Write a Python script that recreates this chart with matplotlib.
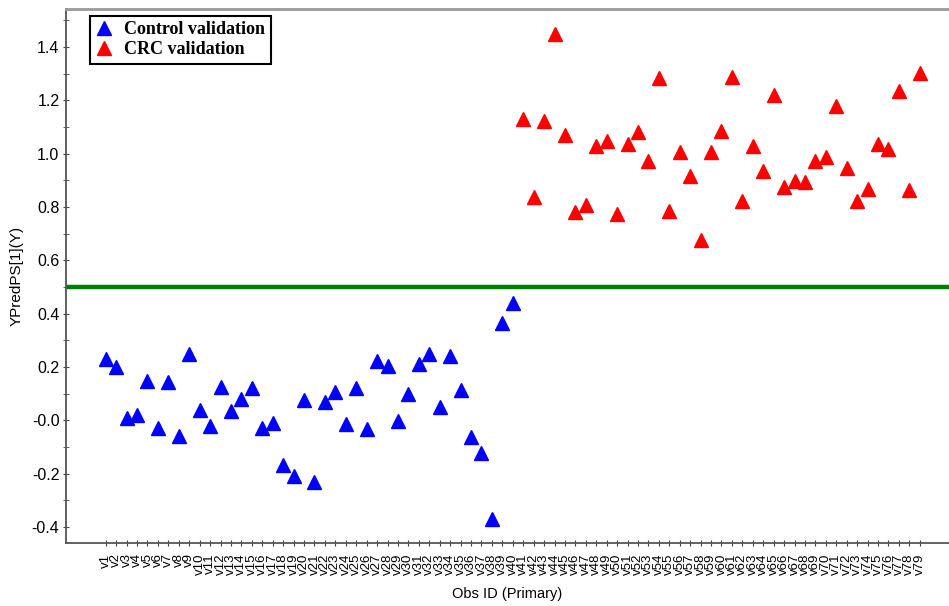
import matplotlib
matplotlib.use("Agg")
import matplotlib.pyplot as plt
from matplotlib.ticker import MultipleLocator, FuncFormatter

# predicted Y per validation observation (v1..v79)
control_ids = [f"v{i}" for i in range(1, 41)]
control_pred = [0.23, 0.20, 0.01, 0.02, 0.148, -0.028, 0.145, -0.058, 0.249, 0.039,
                -0.021, 0.126, 0.035, 0.08, 0.122, -0.028, -0.011, -0.168, -0.209, 0.076,
                -0.233, 0.07, 0.107, -0.014, 0.12, -0.034, 0.224, 0.205, -0.004, 0.10,
                0.211, 0.249, 0.051, 0.241, 0.114, -0.064, -0.124, -0.371, 0.364, 0.441]
crc_ids = [f"v{i}" for i in range(41, 80)]
crc_pred = [1.130, 0.838, 1.122, 1.448, 1.070, 0.780, 0.807, 1.030, 1.048, 0.774,
            1.036, 1.082, 0.972, 1.282, 0.786, 1.005, 0.917, 0.676, 1.007, 1.086,
            1.288, 0.823, 1.030, 0.935, 1.220, 0.876, 0.897, 0.892, 0.972, 0.988,
            1.180, 0.947, 0.823, 0.867, 1.036, 1.016, 1.236, 0.864, 1.301]
threshold = 0.5

all_ids = control_ids + crc_ids
pos = {lab: i + 1 for i, lab in enumerate(all_ids)}

fig = plt.figure(figsize=(9.49, 6.06), dpi=100)
ax = fig.add_axes([0.0692, 0.104, 0.9308, 0.8811])

ax.axhline(threshold, color="#008000", lw=3.2, zorder=1)
ax.plot([pos[l] for l in control_ids], control_pred, "^", color="#0000FF",
        ms=9.5, ls="none", label="Control validation", zorder=3)
ax.plot([pos[l] for l in crc_ids], crc_pred, "^", color="#FF0000",
        ms=9.5, ls="none", label="CRC validation", zorder=3)

ax.set_xlim(-2.84, 81.8)
ax.set_ylim(-0.46, 1.542)
ax.set_xticks(range(1, len(all_ids) + 1))
ax.set_xticklabels(all_ids, rotation=90, fontsize=9.5, family="Liberation Sans")
ax.yaxis.set_major_locator(MultipleLocator(0.2))
ax.yaxis.set_minor_locator(MultipleLocator(0.1))
ax.yaxis.set_major_formatter(FuncFormatter(
    lambda v, p: "-0.0" if abs(v) < 1e-9 else f"{v:.1f}"))
for t in ax.get_yticklabels():
    t.set_family("Liberation Sans")
ax.tick_params(axis="y", which="both", direction="inout", length=5,
               labelsize=11.5, pad=2, color="#444444")
ax.tick_params(axis="x", direction="inout", length=5, pad=5, color="#444444")

for s in ("left", "bottom"):
    ax.spines[s].set_color("#555555")
    ax.spines[s].set_linewidth(1.3)
ax.spines["top"].set_color("#999999")
ax.spines["top"].set_linewidth(2)
ax.spines["right"].set_visible(False)

ax.set_ylabel("YPredPS[1](Y)", fontsize=11, family="Liberation Sans", labelpad=6)
ax.set_xlabel("Obs ID (Primary)", fontsize=10.5, family="Liberation Sans", labelpad=9)

leg = ax.legend(loc="upper left", bbox_to_anchor=(0.0275, 0.987), borderaxespad=0,
                fancybox=False, framealpha=1, edgecolor="black", handlelength=1.0,
                handletextpad=0.6, borderpad=0.3, labelspacing=0.15,
                prop={"family": "Liberation Serif", "weight": "bold", "size": 13})
leg.get_frame().set_linewidth(1.5)

fig.savefig("out.png", dpi=100)
print("wrote out.png")
